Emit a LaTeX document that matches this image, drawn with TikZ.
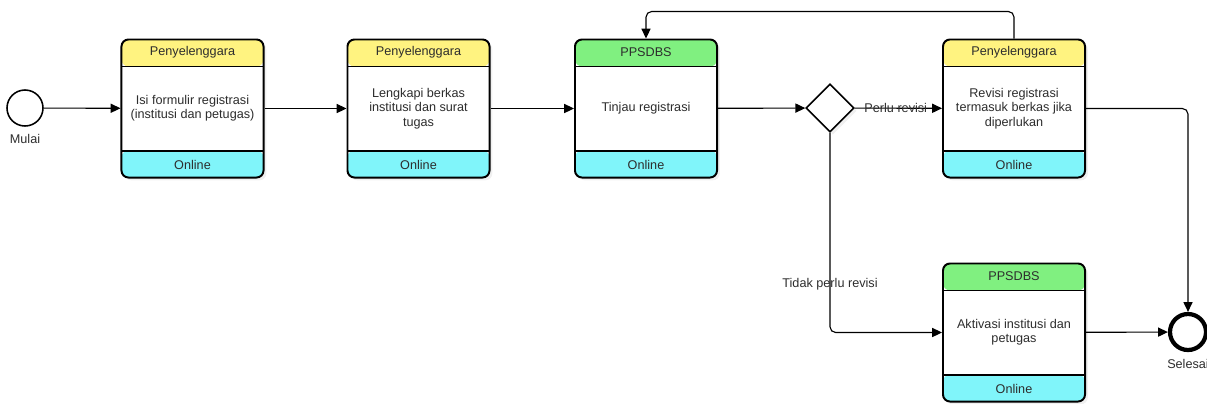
\documentclass[tikz,border=0pt]{standalone}
\usepackage{fontspec}
\setmainfont{Liberation Sans}
\usetikzlibrary{arrows.meta,shapes.geometric,shadows}

\definecolor{headyellow}{RGB}{255,243,128}
\definecolor{headgreen}{RGB}{128,240,128}
\definecolor{footcyan}{RGB}{128,245,250}
\definecolor{txtgray}{RGB}{45,45,45}

\tikzset{
  task/.style={draw, line width=1.4pt, rounded corners=5pt, fill=white,
    minimum width=3.55cm, minimum height=3.45cm,
    drop shadow={shadow xshift=2pt, shadow yshift=-2pt, opacity=0.12},
    path picture={
      \fill[#1] (path picture bounding box.north west) rectangle ([yshift=-0.675cm]path picture bounding box.north east);
      \fill[footcyan] ([yshift=0.675cm]path picture bounding box.south west) rectangle (path picture bounding box.south east);
      \draw[line width=1.4pt] ([yshift=-0.675cm]path picture bounding box.north west) -- ([yshift=-0.675cm]path picture bounding box.north east);
      \draw[line width=1.4pt] ([yshift=0.675cm]path picture bounding box.south west) -- ([yshift=0.675cm]path picture bounding box.south east);
    }},
  boxtxt/.style={text=txtgray, font=\fontsize{9}{10.2}\selectfont, align=center, inner sep=0pt},
  flow/.style={line width=0.8pt, -{Triangle[length=7pt,width=6.5pt]}, rounded corners=4pt},
  lbl/.style={text=txtgray, font=\fontsize{9}{10.2}\selectfont, inner sep=0pt}
}

\begin{document}
\begin{tikzpicture}[x=0.025cm, y=-0.025cm]
  \useasboundingbox (0,0) rectangle (1207,403);

  % Define the nodes
  \node[circle, draw, line width=1.1pt, minimum size=0.9cm, inner sep=0pt] (start) at (25,108) {};
  \node[lbl, below=5pt] (startlbl) at (start.south) {Mulai};

  \node[task=headyellow] (t1) at (192.5,108.5) {};
  \node[task=headyellow] (t2) at (418.5,108.5) {};
  \node[task=headgreen] (t3) at (646,108.5) {};
  \node[diamond, draw, line width=1.1pt, fill=white, minimum size=1.2cm, inner sep=0pt,
        drop shadow={shadow xshift=2pt, shadow yshift=-2pt, opacity=0.12}] (gate) at (830,108) {};
  \node[task=headyellow] (t4) at (1014,108.5) {};
  \node[task=headgreen] (t5) at (1014,332.5) {};

  \node[circle, draw, line width=3pt, minimum size=0.9cm, inner sep=0pt] (end) at (1188,332) {};
  \node[lbl, below=5pt] (endlbl) at (end.south) {Selesai};

  % Header, body and footer texts
  \node[boxtxt] (t1h) at ([yshift=-0.3375cm]t1.north) {Penyelenggara};
  \node[boxtxt] (t1b) at (t1) {Isi formulir registrasi\\(institusi dan petugas)};
  \node[boxtxt] (t1f) at ([yshift=0.3375cm]t1.south) {Online};

  \node[boxtxt] (t2h) at ([yshift=-0.3375cm]t2.north) {Penyelenggara};
  \node[boxtxt] (t2b) at (t2) {Lengkapi berkas\\institusi dan surat\\tugas};
  \node[boxtxt] (t2f) at ([yshift=0.3375cm]t2.south) {Online};

  \node[boxtxt] (t3h) at ([yshift=-0.3375cm]t3.north) {PPSDBS};
  \node[boxtxt] (t3b) at (t3) {Tinjau registrasi};
  \node[boxtxt] (t3f) at ([yshift=0.3375cm]t3.south) {Online};

  \node[boxtxt] (t4h) at ([yshift=-0.3375cm]t4.north) {Penyelenggara};
  \node[boxtxt] (t4b) at (t4) {Revisi registrasi\\termasuk berkas jika\\diperlukan};
  \node[boxtxt] (t4f) at ([yshift=0.3375cm]t4.south) {Online};

  \node[boxtxt] (t5h) at ([yshift=-0.3375cm]t5.north) {PPSDBS};
  \node[boxtxt] (t5b) at (t5) {Aktivasi institusi dan\\petugas};
  \node[boxtxt] (t5f) at ([yshift=0.3375cm]t5.south) {Online};

  % Draw the flow
  \draw[flow] (start) -- (t1);
  \draw[flow] (t1) -- (t2);
  \draw[flow] (t2) -- (t3);
  \draw[flow] (t3) -- (gate);
  \draw[flow] (gate) -- node[lbl, pos=0.47] (yes) {Perlu revisi} (t4);
  \draw[flow] (t4.north) -- ++(0,-27) -| (t3.north);
  \draw[flow] (gate.south) |- node[lbl, pos=0.38] (no) {Tidak perlu revisi} (t5.west);
  \draw[flow] (t4.east) -| (end.north);
  \draw[flow] (t5) -- (end);
\end{tikzpicture}
\end{document}
